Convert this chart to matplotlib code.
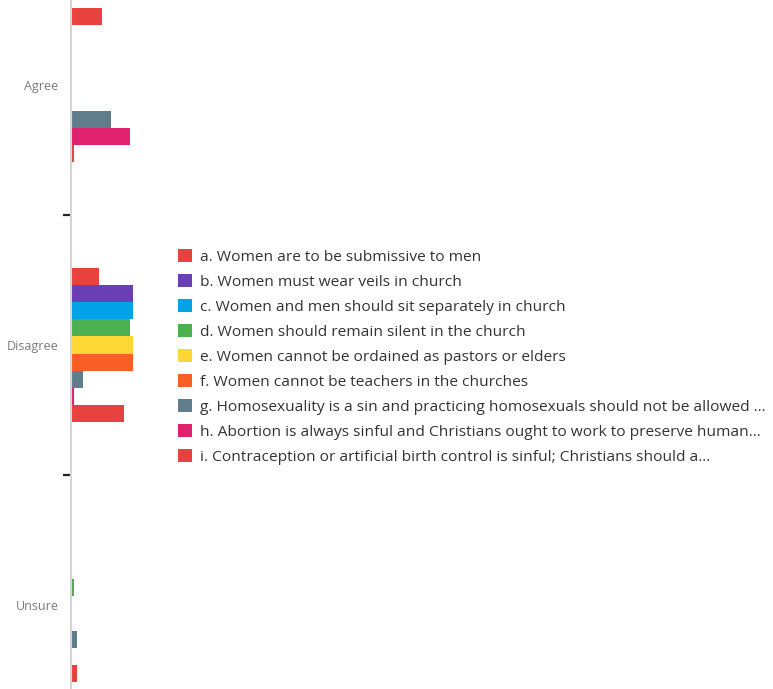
import matplotlib
matplotlib.use("Agg")
import matplotlib.pyplot as plt
from matplotlib.patches import Patch

plt.rcParams['font.family'] = ['Open Sans', 'DejaVu Sans']

# Answer categories down the y axis.
categories = ["Agree", "Disagree", "Unsure"]

# One series per statement (respondent counts per answer).
series_labels = [
    "a. Women are to be submissive to men",
    "b. Women must wear veils in church",
    "c. Women and men should sit separately in church",
    "d. Women should remain silent in the church",
    "e. Women cannot be ordained as pastors or elders",
    "f. Women cannot be teachers in the churches",
    "g. Homosexuality is a sin and practicing homosexuals should not be allowed ...",
    "h. Abortion is always sinful and Christians ought to work to preserve human...",
    "i. Contraception or artificial birth control is sinful; Christians should a...",
]
series_values = [
    [10, 9, 0],
    [0, 20, 0],
    [0, 20, 0],
    [0, 19, 1],
    [0, 20, 0],
    [0, 20, 0],
    [13, 4, 2],
    [19, 1, 0],
    [1, 17, 2],
]
series_colors = [
    "#e8423f", "#6a3fb5", "#00a2e8", "#4caf50", "#fdd835",
    "#f95e25", "#607d8b", "#e0226e", "#e8423f",
]

W, H = 773, 689
fig = plt.figure(figsize=(W / 100, H / 100), dpi=100)

# The plot area is taller than the canvas, so the outer bars get cut off.
top_px, bottom_px = -45, 735
left_px, width_px = 71, 100
ax = fig.add_axes([left_px / W, (H - bottom_px) / H,
                   width_px / W, (bottom_px - top_px) / H])

n = len(series_values)
bar_h = 17.2 / 260
for k, (vals, color, label) in enumerate(zip(series_values, series_colors, series_labels)):
    ys = [i + (k - (n - 1) / 2) * bar_h for i in range(len(categories))]
    ax.barh(ys, vals, height=bar_h, color=color, label=label, linewidth=0)

ax.set_xlim(0, width_px / 3.1)
ax.set_ylim(2.5, -0.5)

ax.set_yticks(range(len(categories)))
ax.set_yticklabels(categories, color="#7a7a7a", fontsize=9)
ax.tick_params(axis="y", which="major", length=0, pad=9)
ax.set_yticks([0.5, 1.5], minor=True)
ax.tick_params(axis="y", which="minor", length=5.5, width=1.6, color="#222222")
ax.set_xticks([])

for side in ("top", "right", "bottom"):
    ax.spines[side].set_visible(False)
ax.spines["left"].set_color("#d5d5d5")
ax.spines["left"].set_linewidth(1.5)

handles = [Patch(facecolor=c, edgecolor="none") for c in series_colors]
fig.legend(handles, series_labels, loc="upper left",
           bbox_to_anchor=(178 / W, (H - 249) / H),
           frameon=False, fontsize=11.15, labelcolor="#333333",
           handlelength=0.9, handleheight=0.9, handletextpad=0.55,
           labelspacing=0.595, borderpad=0, borderaxespad=0)

fig.savefig("out.png", dpi=100)
